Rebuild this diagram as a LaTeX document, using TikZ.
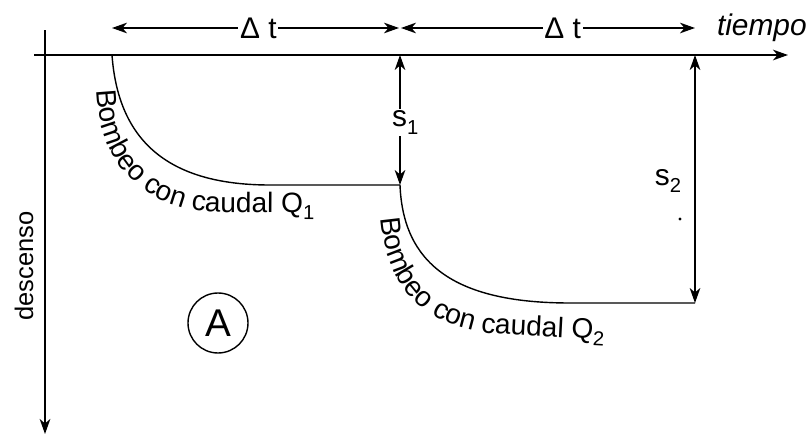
\documentclass[tikz,border=0pt]{standalone}
\usepackage{fontspec}
\setmainfont{Liberation Sans}
\usetikzlibrary{arrows.meta,decorations.text}
\newcommand\lblsize{\fontsize{16}{19}\selectfont}
\newcommand\lowsub[1]{\raisebox{-0.25em}{\fontsize{11.5}{13}\selectfont #1}}
\tikzset{
  axisline/.style={line width=1.2pt,->},
  dimline/.style={line width=1pt,<->},
  wellcurve/.style={line width=0.8pt},
  gaplabel/.style={fill=white,inner xsep=1pt,inner ysep=0pt},
}
\begin{document}
\begin{tikzpicture}[x=0.02cm,y=-0.02cm,font=\lblsize,line join=round,>={Stealth[length=8.5pt,width=6pt,inset=2.5pt]}]
\useasboundingbox (0,0) rectangle (809,436);
% axes
\coordinate (xstart) at (34,55);
\coordinate (xend) at (788,55);
\coordinate (ystart) at (45,30);
\coordinate (yend) at (45,434);
\draw[axisline] (xstart) -- (xend);
\draw[axisline] (ystart) -- (yend);
\node[anchor=base east,inner xsep=0pt,font=\fontsize{17}{20}\selectfont\itshape] (tiempo) at (807,35) {tiempo};
\node[anchor=base,rotate=90,font=\fontsize{14.5}{17}\selectfont] (descenso) at (33,266) {descenso};
% drawdown curves
\coordinate (p0) at (112,55);
\coordinate (p1) at (400,185);
\coordinate (p2) at (695,303);
\draw[wellcurve] (p0) .. controls (118,138) and (165,185) .. (270,185) -- (p1);
\draw[wellcurve] (p1) .. controls (403,262) and (452,303) .. (570,303) -- (p2);
\path[decorate,decoration={text along path,text={|\lblsize|Bombeo con caudal Q{\lowsub{1}}}}]
  (97,90) .. controls (99,165) and (145,210) .. (215,212) -- (360,213);
\path[decorate,decoration={text along path,text={|\lblsize|Bombeo con caudal Q{\lowsub{2}}}}]
  (381,218) .. controls (386,292) and (430,330) .. (500,334) -- (670,343);
% time steps
\coordinate (t0) at (112,28);
\coordinate (t1) at (399,28);
\coordinate (t2) at (401,28);
\coordinate (t3) at (695,28);
\draw[dimline] (t0) -- (t1) node[gaplabel,pos=0.51,font=\fontsize{17}{20}\selectfont] (dt1) {Δ t};
\draw[dimline] (t2) -- (t3) node[gaplabel,pos=0.55,font=\fontsize{17}{20}\selectfont] (dt2) {Δ t};
% drawdowns
\coordinate (s1top) at (400,55);
\coordinate (s2top) at (695,55);
\draw[dimline] (s1top) -- (p1) node[gaplabel,pos=0.52,xshift=3pt,inner ysep=1pt,font=\fontsize{17}{20}\selectfont] (s1) {s\lowsub{1}};
\draw[dimline] (s2top) -- (p2);
\node[font=\fontsize{17}{20}\selectfont] (s2) at (668,181) {s\lowsub{2}};
\fill (680,219) circle[radius=0.9pt];
\node[draw,circle,minimum size=1.2cm,inner sep=0pt,line width=0.8pt,font=\fontsize{22}{26}\selectfont] (A) at (218,323) {A};
\end{tikzpicture}
\end{document}
